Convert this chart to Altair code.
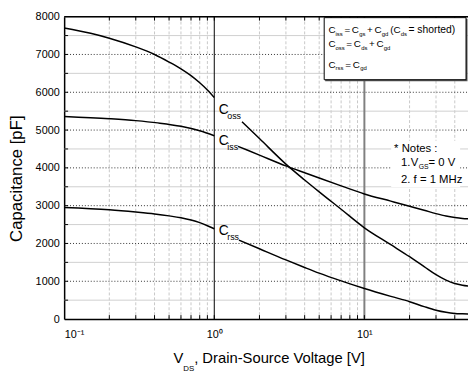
import altair as alt
import pandas as pd

# ---------------- data ----------------
coss1_v = [0.1, 0.15, 0.2, 0.3, 0.4, 0.5, 0.6, 0.7, 0.8, 0.9, 1.0]
coss1_c = [7700, 7560, 7430, 7200, 7000, 6800, 6620, 6440, 6250, 6060, 5860]
coss2_v = [1.53, 2, 3, 4, 5, 7, 10, 15, 20, 25, 30, 35, 40, 45, 50]
coss2_c = [5220, 4775, 4100, 3680, 3366, 2905, 2415, 1968, 1650, 1389, 1176, 1030, 940, 895, 870]

ciss1_v = [0.1, 0.2, 0.3, 0.42, 0.6, 0.8, 1.0]
ciss1_c = [5360, 5300, 5250, 5190, 5100, 4980, 4850]
ciss2_v = [1.44, 2, 3, 4, 5, 7, 10, 15, 20, 25, 30, 35, 40, 45, 50]
ciss2_c = [4570, 4338, 4052, 3870, 3731, 3525, 3310, 3120, 2985, 2880, 2790, 2725, 2685, 2660, 2650]

crss1_v = [0.1, 0.2, 0.3, 0.4, 0.5, 0.6, 0.7, 0.8, 0.9, 1.0]
crss1_c = [2950, 2890, 2830, 2780, 2730, 2680, 2620, 2550, 2470, 2390]
crss2_v = [1.46, 2, 3, 4, 5, 7, 10, 15, 20, 25, 30, 35, 40, 45, 50]
crss2_c = [2090, 1860, 1565, 1365, 1215, 1010, 808, 600, 460, 330, 235, 180, 150, 138, 130]

x_major = [0.1, 1, 10]
x_minor = [0.2, 0.3, 0.4, 0.5, 0.6, 0.7, 0.8, 0.9,
           2, 3, 4, 5, 6, 7, 8, 9, 20, 30, 40]
y_major = [0, 1000, 2000, 3000, 4000, 5000, 6000, 7000, 8000]
y_half = [500, 1500, 2500, 3500, 4500, 5500, 6500, 7500]

# curve labels (data coordinates)
lab_text = ["C", "oss", "C", "iss", "C", "rss"]
lab_v = [1.072, 1.22, 1.072, 1.22, 1.072, 1.22]
lab_c = [5433, 5303, 4612, 4482, 2215, 2085]
lab_size = [14, 9, 14, 9, 14, 9]

W, H = 410, 307
FONT = "Liberation Sans"

rows = []
for name, segs in [("Coss", [(coss1_v, coss1_c), (coss2_v, coss2_c)]),
                   ("Ciss", [(ciss1_v, ciss1_c), (ciss2_v, ciss2_c)]),
                   ("Crss", [(crss1_v, crss1_c), (crss2_v, crss2_c)])]:
    for i, (vs, cs) in enumerate(segs):
        for v, c in zip(vs, cs):
            rows.append({"v": v, "c": c, "seg": f"{name}{i}"})
curves = pd.DataFrame(rows)

X = alt.X("v:Q", scale=alt.Scale(type="log", domain=[0.1, 49], nice=False),
          axis=alt.Axis(values=x_major, ticks=False, grid=False, title=None,
                        labelExpr="datum.value < 0.5 ? '10⁻¹' : datum.value < 5 ? '10⁰' : '10¹'",
                        labelFontSize=11, labelFont=FONT, labelColor="black",
                        labelPadding=10, domainColor="black", domainWidth=1.5))
Y = alt.Y("c:Q", scale=alt.Scale(domain=[0, 8000], nice=False),
          axis=alt.Axis(values=y_major, ticks=False, grid=False, title=None, format="d",
                        labelFontSize=11, labelFont=FONT, labelColor="black",
                        labelPadding=5, domainColor="black", domainWidth=1.5))

xminor_df = pd.DataFrame({"v": x_minor})
xall_df = pd.DataFrame({"v": x_minor + [1, 10]})
yhalf_df = pd.DataFrame({"c": y_half})
ydot_df = pd.DataFrame({"c": y_major[1:-1]})
ytick_df = pd.DataFrame({"c": sorted(y_half + y_major[1:-1])})

layers = []
layers.append(alt.Chart(xminor_df).mark_rule(color="#c8c8c8", strokeDash=[3, 2], strokeWidth=1)
              .encode(x=X, y=alt.value(0), y2=alt.value(H)))
layers.append(alt.Chart(yhalf_df).mark_rule(color="#cfcfcf", strokeWidth=1)
              .encode(y=Y, x=alt.value(0), x2=alt.value(W)))
layers.append(alt.Chart(ydot_df).mark_rule(color="#333333", strokeDash=[1, 2], strokeWidth=1)
              .encode(y=Y, x=alt.value(0), x2=alt.value(W)))
layers.append(alt.Chart(pd.DataFrame({"v": [1]})).mark_rule(color="black", strokeWidth=1)
              .encode(x=X, y=alt.value(0), y2=alt.value(H)))
layers.append(alt.Chart(pd.DataFrame({"v": [10]})).mark_rule(color="#808080", strokeWidth=2)
              .encode(x=X, y=alt.value(0), y2=alt.value(H)))
# inward ticks
layers.append(alt.Chart(xall_df).mark_rule(color="black", strokeWidth=1)
              .encode(x=X, y=alt.value(H - 4), y2=alt.value(H)))
layers.append(alt.Chart(xall_df).mark_rule(color="black", strokeWidth=1)
              .encode(x=X, y=alt.value(0), y2=alt.value(4)))
layers.append(alt.Chart(ytick_df).mark_rule(color="black", strokeWidth=1)
              .encode(y=Y, x=alt.value(0), x2=alt.value(4)))
# top frame
layers.append(alt.Chart(pd.DataFrame({"c": [8000]})).mark_rule(color="black", strokeWidth=1.5)
              .encode(y=Y, x=alt.value(0), x2=alt.value(W)))
# curves
layers.append(alt.Chart(curves).mark_line(color="black", strokeWidth=1.5, clip=True, interpolate="monotone")
              .encode(x=X, y=Y, detail="seg:N"))
# curve labels
labels = pd.DataFrame({"t": lab_text, "v": lab_v, "c": lab_c, "s": lab_size})
layers.append(alt.Chart(labels).mark_text(align="left", baseline="alphabetic", font=FONT, color="black")
              .encode(x=X, y=Y, text="t:N", size=alt.Size("s:Q", scale=None, legend=None)))

one = alt.Data(values=[{"a": 1}])

# legend box (with slight shadow) and notes background
layers.append(alt.Chart(one).mark_rect(fill="#555555")
              .encode(x=alt.value(265), x2=alt.value(409.5), y=alt.value(2), y2=alt.value(65.5)))
layers.append(alt.Chart(one).mark_rect(fill="white", stroke="black", strokeWidth=1)
              .encode(x=alt.value(264), x2=alt.value(408), y=alt.value(1), y2=alt.value(64)))
layers.append(alt.Chart(one).mark_rect(fill="white")
              .encode(x=alt.value(332), x2=alt.value(402), y=alt.value(126), y2=alt.value(173)))

L, S = 10, 6
b1, b2, b3 = 16.7, 31, 52
d = 2.5
pieces = [
    # line 1
    ("C", 268.5, b1, L), ("iss", 275.5, b1 + d, S), ("=", 284.5, b1, L), ("C", 292, b1, L),
    ("gs", 299.5, b1 + d, S), ("+", 307.5, b1, L), ("C", 315, b1, L), ("gd", 322.5, b1 + d, S),
    ("(C", 331, b1, L), ("ds", 341.8, b1 + d, S), ("= shorted)", 349.5, b1, 10.5),
    # line 2
    ("C", 268.5, b2, L), ("oss", 275.5, b2 + d, S), ("=", 286.5, b2, L), ("C", 294, b2, L),
    ("ds", 301.5, b2 + d, S), ("+", 309.5, b2, L), ("C", 317, b2, L), ("gd", 324.5, b2 + d, S),
    # line 3
    ("C", 268.5, b3, L), ("rss", 275.5, b3 + d, S), ("=", 285.5, b3, L), ("C", 293, b3, L), ("gd", 300.5, b3 + d, S),
    # notes
    ("* Notes :", 335, 137.5, 11.5), ("1.", 342, 151.7, 11.5), ("V", 352, 151.7, 11.5),
    ("GS", 360, 154.5, 7), ("= 0 V", 370, 151.7, 11.5), ("2. f = 1 MHz", 342, 168.7, 11.5),
    # x title
    ("V", 111, 352, 15), ("DS", 121, 360, 8), (", Drain-Source Voltage [V]", 132, 352, 15),
]
for t, px, py, fs in pieces:
    layers.append(alt.Chart(one).mark_text(text=t, fontSize=fs, font=FONT, color="black",
                                           align="left", baseline="alphabetic")
                  .encode(x=alt.value(px), y=alt.value(py)))
# y title
layers.append(alt.Chart(one).mark_text(text="Capacitance [pF]", fontSize=17, font=FONT, color="black",
                                       align="center", baseline="alphabetic", angle=270)
              .encode(x=alt.value(-43), y=alt.value(164.5)))

chart = alt.layer(*layers).properties(
    width=W, height=H,
    autosize=alt.AutoSizeParams(type="none"),
    padding={"left": 57, "top": 6, "right": 0, "bottom": 55},
).configure_view(strokeWidth=0).configure(background="white")

chart.save("out.html", embed_options={"renderer": "svg", "actions": False})
